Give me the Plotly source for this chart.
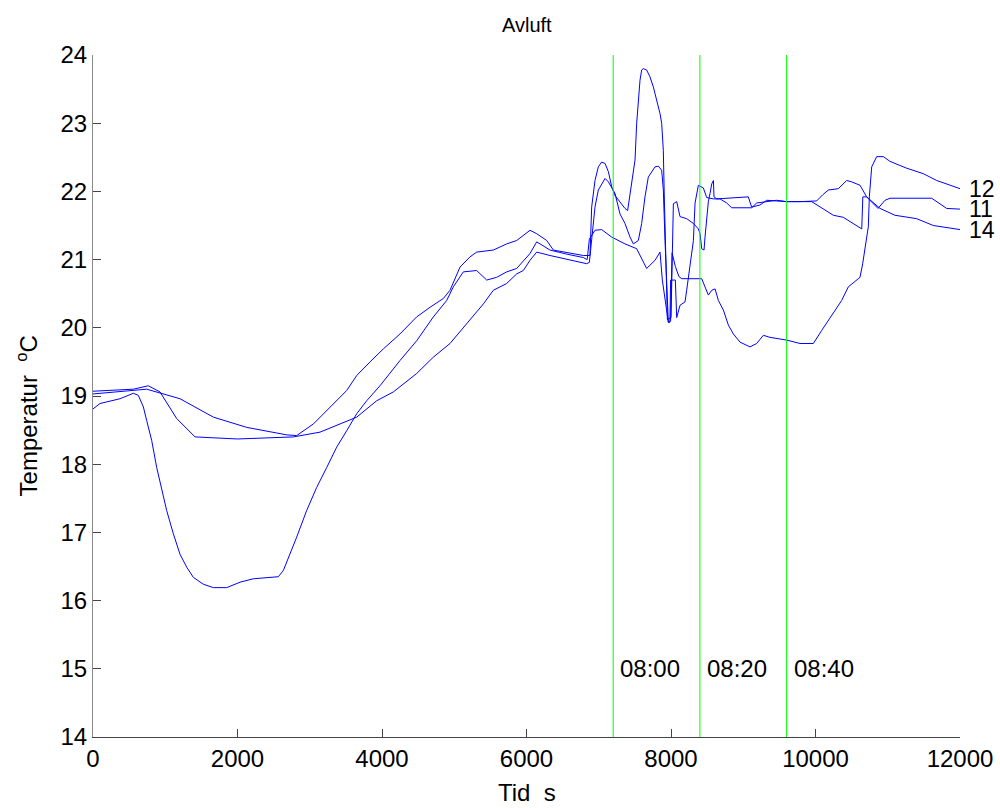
import plotly.graph_objects as go

# ---- data (time in s, temperature in degC) ----
t12 = [0, 97, 374, 558, 627, 697, 743, 812, 882, 951, 1020, 1112, 1204, 1297, 1389, 1527, 1666, 1850,
       2035, 2219, 2404, 2565, 2634, 2727, 2819, 2957, 3096, 3234, 3373, 3511, 3650, 3788, 3972, 4249,
       4480, 4711, 4895, 4987, 5126, 5310, 5449, 5587, 5726, 5864, 6049, 6141, 6326, 6557, 6787, 6840,
       6870, 6948, 7040, 7179, 7363, 7525, 7594, 7663, 7779, 7848, 7880, 7963, 7995, 8015, 8060, 8110,
       8150, 8425, 8471, 8517, 8564, 8610, 8656, 8725, 8794, 8863, 8955, 9093, 9186, 9278, 9370, 9601,
       9786, 9970, 10085, 10247, 10362, 10454, 10616, 10653, 10685, 10731, 10745, 10778, 10847, 10939,
       11031, 11262, 11492, 11677, 12000]
v12 = [18.81, 18.89, 18.96, 19.04, 19.01, 18.84, 18.64, 18.35, 17.95, 17.61, 17.32, 16.98, 16.68, 16.49,
       16.34, 16.24, 16.19, 16.19, 16.27, 16.32, 16.34, 16.35, 16.44, 16.68, 16.93, 17.32, 17.66, 17.95,
       18.25, 18.49, 18.74, 18.93, 19.15, 19.52, 19.81, 20.16, 20.40, 20.60, 20.82, 20.84, 20.70, 20.74,
       20.82, 20.87, 21.09, 21.26, 21.14, 21.08, 21.03, 21.00, 21.30, 21.43, 21.44, 21.33, 21.23, 21.16,
       21.01, 20.87, 20.99, 21.11, 20.70, 20.08, 20.10, 21.10, 20.90, 20.75, 20.72, 20.72, 20.60, 20.48,
       20.55, 20.57, 20.40, 20.26, 20.04, 19.91, 19.79, 19.72, 19.77, 19.89, 19.86, 19.82, 19.77, 19.77,
       19.96, 20.21, 20.40, 20.60, 20.74, 20.94, 21.19, 21.48, 21.92, 22.36, 22.51, 22.51, 22.44, 22.34,
       22.26, 22.16, 22.04]

t11 = [0, 558, 766, 927, 1158, 1412, 2000, 2773, 3142, 3650, 3926, 4157, 4480, 4711, 4941, 5172, 5403,
       5541, 5726, 5864, 5956, 6049, 6141, 6326, 6557, 6833, 6870, 6902, 6948, 6994, 7087, 7133, 7225,
       7294, 7363, 7433, 7479, 7548, 7594, 7640, 7686, 7779, 7825, 7871, 7894, 7917, 7940, 7963, 7985,
       7995, 8060, 8079, 8125, 8194, 8217, 8287, 8310, 8333, 8379, 8448, 8494, 8587, 8679, 8771, 8840,
       9116, 9186, 9463, 9601, 9786, 9947, 10247, 10385, 10640, 10655, 10708, 10865, 10962, 11031, 11608,
       11677, 11816, 12000]
v11 = [19.07, 19.10, 19.15, 19.06, 18.67, 18.40, 18.37, 18.40, 18.47, 18.69, 18.93, 19.06, 19.33, 19.57,
       19.77, 20.06, 20.35, 20.55, 20.65, 20.79, 20.84, 20.99, 21.11, 21.06, 21.01, 20.94, 20.96, 21.28,
       21.77, 22.02, 22.19, 22.14, 21.97, 21.67, 21.53, 21.33, 21.23, 21.28, 21.53, 21.92, 22.21, 22.36,
       22.37, 22.31, 22.02, 21.28, 20.70, 20.08, 20.08, 20.70, 20.70, 20.15, 20.33, 20.38, 20.55, 21.14,
       21.28, 21.83, 22.09, 22.05, 21.91, 21.89, 21.89, 21.83, 21.76, 21.76, 21.83, 21.87, 21.85, 21.85,
       21.85, 21.65, 21.62, 21.45, 21.92, 21.92, 21.75, 21.87, 21.90, 21.90, 21.85, 21.75, 21.74]

t14 = [0, 743, 1204, 1666, 2127, 2681, 2819, 3050, 3511, 3650, 3834, 4018, 4249, 4480, 4664, 4849, 4941,
       5080, 5218, 5310, 5541, 5726, 5864, 6049, 6141, 6280, 6372, 6787, 6879, 6902, 6948, 6994, 7040,
       7087, 7133, 7179, 7225, 7294, 7363, 7400, 7433, 7479, 7502, 7525, 7548, 7571, 7594, 7617, 7663,
       7709, 7756, 7802, 7848, 7871, 7894, 7905, 7925, 7950, 8000, 8015, 8033, 8079, 8125, 8217, 8310,
       8379, 8402, 8425, 8457, 8471, 8494, 8517, 8540, 8564, 8587, 8595, 8633, 9070, 9116, 9231, 9324,
       9601, 9786, 9947, 10016, 10100, 10177, 10316, 10431, 10500, 10616, 10708, 10893, 11100, 11400,
       11630, 12000]
v14 = [19.03, 19.10, 18.96, 18.69, 18.54, 18.43, 18.42, 18.59, 19.08, 19.30, 19.50, 19.69, 19.91, 20.16,
       20.30, 20.43, 20.55, 20.89, 21.04, 21.11, 21.14, 21.23, 21.28, 21.43, 21.38, 21.28, 21.14, 21.06,
       21.06, 21.77, 22.16, 22.36, 22.43, 22.41, 22.29, 22.07, 21.94, 21.85, 21.75, 21.72, 21.97, 22.30,
       22.46, 23.00, 23.34, 23.63, 23.78, 23.80, 23.78, 23.68, 23.53, 23.34, 23.14, 23.00, 22.60, 22.02,
       21.00, 20.12, 20.15, 21.20, 21.82, 21.85, 21.63, 21.60, 21.53, 21.45, 21.38, 21.16, 21.14, 21.33,
       21.58, 21.85, 21.97, 22.11, 22.16, 21.92, 21.89, 21.92, 21.77, 21.80, 21.87, 21.85, 21.85, 21.85,
       21.86, 21.95, 22.02, 22.04, 22.16, 22.14, 22.09, 21.92, 21.75, 21.65, 21.60, 21.50, 21.44]

series_names = ["12", "11", "14"]
marker_times = [7200, 8400, 9600]
marker_labels = ["08:00", "08:20", "08:40"]
x_ticks = [0, 2000, 4000, 6000, 8000, 10000, 12000]
y_ticks = [14, 15, 16, 17, 18, 19, 20, 21, 22, 23, 24]

FONT = "Liberation Sans, Arial, Helvetica, sans-serif"
BLUE = "rgb(0,0,255)"
GREEN = "rgb(0,255,0)"

fig = go.Figure()
for t, v, name in zip([t12, t11, t14], [v12, v11, v14], series_names):
    fig.add_trace(go.Scatter(x=t, y=v, mode="lines", name=name,
                             line=dict(color=BLUE, width=1), showlegend=False))

for tm, lab in zip(marker_times, marker_labels):
    fig.add_shape(type="line", xref="x", yref="y", x0=tm, x1=tm, y0=14, y1=24,
                  line=dict(color=GREEN, width=1))
    fig.add_annotation(x=tm, y=15, xref="x", yref="y", text=lab, showarrow=False,
                       xanchor="left", yanchor="middle", xshift=5,
                       font=dict(family=FONT, size=24, color="black"))

# end labels of the series
for t, v, name in zip([t12, t11, t14], [v12, v11, v14], series_names):
    fig.add_annotation(x=t[-1], y=v[-1], xref="x", yref="y", text=name, showarrow=False,
                       xanchor="left", yanchor="middle", xshift=7,
                       font=dict(family=FONT, size=23, color="black"))

fig.add_annotation(x=0.5, y=1, xref="paper", yref="paper", text="Avluft", showarrow=False,
                   xanchor="center", yanchor="middle", yshift=30,
                   font=dict(family=FONT, size=20, color="black"))
fig.add_annotation(x=6000, y=0, xref="x", yref="paper", text="Tid  s", showarrow=False,
                   xanchor="center", yanchor="middle", yshift=-55,
                   font=dict(family=FONT, size=24, color="black"))
fig.add_annotation(x=0, y=18.7, xref="paper", yref="y",
                   text="Temperatur  <sup>o</sup>C", showarrow=False, textangle=-90,
                   xanchor="center", yanchor="middle", xshift=-66,
                   font=dict(family=FONT, size=24, color="black"))

fig.update_layout(
    width=1000, height=808,
    margin=dict(l=93, r=40, t=55, b=71),
    paper_bgcolor="white", plot_bgcolor="white",
    showlegend=False,
)
fig.update_xaxes(range=[0, 12000], tickmode="array", tickvals=x_ticks,
                 ticktext=[str(v) for v in x_ticks], automargin=False,
                 ticks="inside", ticklen=8, tickcolor="#444", tickwidth=1,
                 showline=True, linecolor="#444", linewidth=1, mirror=False,
                 showgrid=False, zeroline=False,
                 tickfont=dict(family=FONT, size=24, color="black"))
fig.update_yaxes(range=[14, 24], tickmode="array", tickvals=y_ticks,
                 ticktext=[str(v) for v in y_ticks], automargin=False,
                 ticks="inside", ticklen=8, tickcolor="#444", tickwidth=1,
                 showline=True, linecolor="#888", linewidth=1, mirror=False,
                 showgrid=False, zeroline=False,
                 tickfont=dict(family=FONT, size=24, color="black"))

fig.write_html("out.html", config={"displayModeBar": False},
               post_script="document.body.style.margin='0';document.body.style.overflow='hidden';")
